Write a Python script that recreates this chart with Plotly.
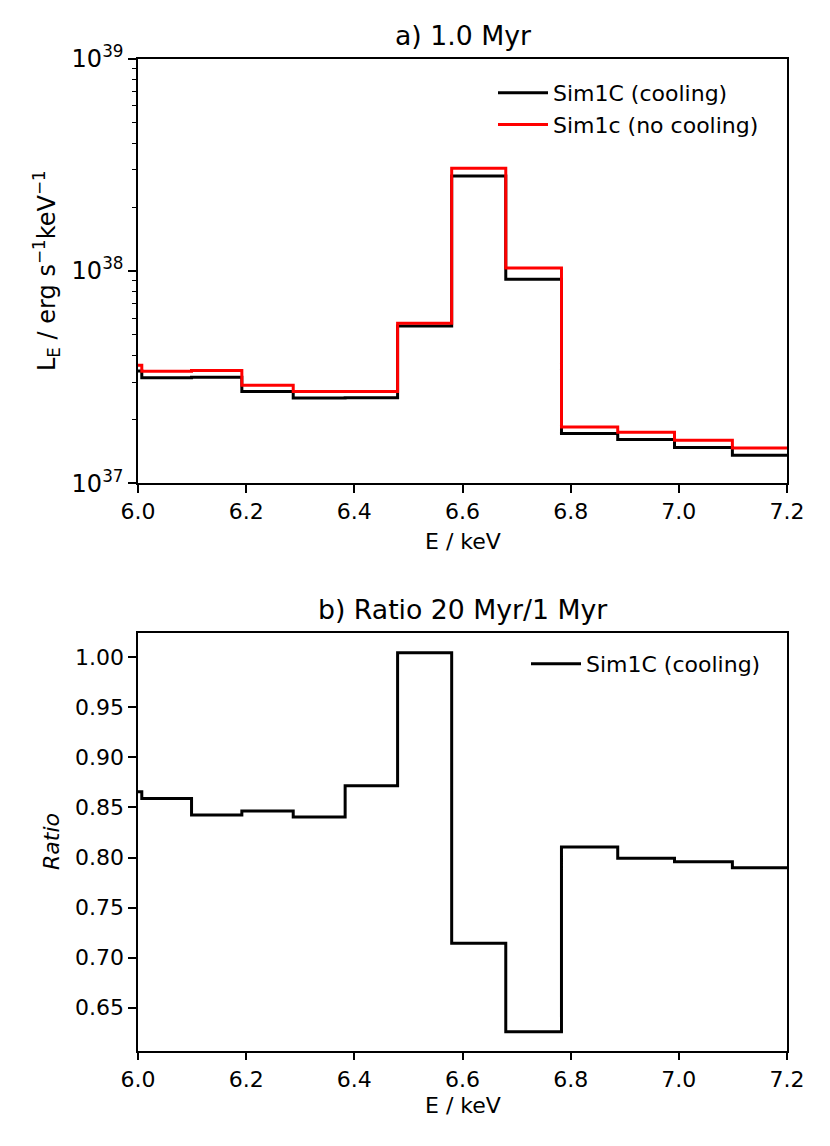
import plotly.graph_objects as go

# ---- data ----
edges = [6.0, 6.007, 6.099, 6.192, 6.287, 6.383, 6.48, 6.58, 6.68, 6.783, 6.887, 6.992, 7.099, 7.2]
lum_cooling = [3.38e37, 3.14e37, 3.16e37, 2.71e37, 2.52e37, 2.53e37, 5.50e37, 2.80e38, 9.14e37,
               1.716e37, 1.607e37, 1.474e37, 1.356e37]
lum_nocooling = [3.60e37, 3.37e37, 3.40e37, 2.90e37, 2.71e37, 2.71e37, 5.67e37, 3.05e38, 1.033e38,
                 1.844e37, 1.741e37, 1.595e37, 1.468e37]
ratio_cooling = [0.8657, 0.859, 0.8425, 0.8465, 0.8405, 0.8717, 1.0046, 0.7143, 0.626,
                 0.8105, 0.7992, 0.7958, 0.7898]

x_ticks = [6.0, 6.2, 6.4, 6.6, 6.8, 7.0, 7.2]
log_ticks = [1e37, 1e38, 1e39]
log_ticktext = ["10<sup>37</sup>", "10<sup>38</sup>", "10<sup>39</sup>"]
log_minor = [float(m) * 10.0 ** e for e in (37, 38) for m in range(2, 10)]
ratio_ticks = [0.65, 0.70, 0.75, 0.80, 0.85, 0.90, 0.95, 1.00]

# page has an 8px body margin: figure drawn from (8, 8)
OFF = 8
W, H = 814, 1130
FONT = "DejaVu Sans"
LW = 1.8


def xp(px):
    return (px - OFF) / W


def yp(py):
    return 1 - (py - OFF) / H


def stepy(vals):
    return list(vals) + [vals[-1]]


fig = go.Figure()
fig.add_trace(go.Scatter(x=edges, y=stepy(lum_cooling), mode="lines", line_shape="hv",
                         line=dict(color="black", width=3), name="Sim1C (cooling)",
                         xaxis="x", yaxis="y", legend="legend"))
fig.add_trace(go.Scatter(x=edges, y=stepy(lum_nocooling), mode="lines", line_shape="hv",
                         line=dict(color="#ff0000", width=3), name="Sim1c (no cooling)",
                         xaxis="x", yaxis="y", legend="legend"))
fig.add_trace(go.Scatter(x=edges, y=stepy(ratio_cooling), mode="lines", line_shape="hv",
                         line=dict(color="black", width=3), name="Sim1C (cooling)",
                         xaxis="x2", yaxis="y2", legend="legend2"))

x_dom = [xp(138), xp(787)]
y1_dom = [yp(483.3), yp(58.7)]
y2_dom = [yp(1050.7), yp(633.3)]

axis_common = dict(showline=True, mirror=True, linecolor="black", linewidth=LW,
                   ticks="outside", ticklen=7.8, tickwidth=LW, tickcolor="black",
                   showgrid=False, zeroline=False, automargin=False)
tick22 = dict(family=FONT, size=22, color="black")

fig.update_layout(
    width=W, height=H,
    margin=dict(l=0, r=0, t=0, b=0),
    paper_bgcolor="white", plot_bgcolor="white",
    font=dict(family=FONT, size=22, color="black"),
    xaxis=dict(domain=x_dom, anchor="y", range=[6.0, 7.2], tickvals=x_ticks,
               tickformat=".1f", tickfont=tick22, **axis_common),
    yaxis=dict(domain=y1_dom, anchor="x", type="log", range=[37, 39],
               tickvals=log_ticks, ticktext=log_ticktext,
               tickfont=dict(family=FONT, size=24, color="black"),
               minor=dict(tickvals=log_minor, ticks="outside", ticklen=4.4,
                          tickwidth=1.3, tickcolor="black", showgrid=False),
               **axis_common),
    xaxis2=dict(domain=x_dom, anchor="y2", range=[6.0, 7.2], tickvals=x_ticks,
                tickformat=".1f", tickfont=tick22, **axis_common),
    yaxis2=dict(domain=y2_dom, anchor="x2", range=[0.607, 1.024],
                tickvals=ratio_ticks, tickformat=".2f", tickfont=tick22, **axis_common),
    legend=dict(x=xp(764), y=yp(72), xanchor="right", yanchor="top",
                bgcolor="rgba(0,0,0,0)", font=dict(family=FONT, size=22),
                tracegroupgap=0, itemwidth=50),
    legend2=dict(x=xp(766), y=yp(643), xanchor="right", yanchor="top",
                 bgcolor="rgba(0,0,0,0)", font=dict(family=FONT, size=22),
                 itemwidth=50),
    showlegend=True,
)

xc = xp((138 + 787) / 2)
annots = [
    dict(text="a) 1.0 Myr", x=xc, y=y1_dom[1], yanchor="bottom", yshift=6,
         font=dict(size=26.7)),
    dict(text="b) Ratio 20 Myr/1 Myr", x=xc, y=y2_dom[1], yanchor="bottom", yshift=6,
         font=dict(size=26.7)),
    dict(text="E / keV", x=xc, y=yp(541), yanchor="middle"),
    dict(text="E / keV", x=xc, y=yp(1105), yanchor="middle"),
    dict(text="L<sub>E</sub> / erg s<sup>−1</sup>keV<sup>−1</sup>", x=xp(46),
         y=(y1_dom[0] + y1_dom[1]) / 2, textangle=-90, xanchor="center", yanchor="middle",
         font=dict(size=24)),
    dict(text="<i>Ratio</i>", x=xp(52), y=(y2_dom[0] + y2_dom[1]) / 2, textangle=-90,
         xanchor="center", yanchor="middle"),
]
for a in annots:
    size = a.pop("font", {}).get("size", 22)
    fig.add_annotation(xref="paper", yref="paper", showarrow=False,
                       font=dict(family=FONT, color="black", size=size), **a)

fig.write_html("out.html")
